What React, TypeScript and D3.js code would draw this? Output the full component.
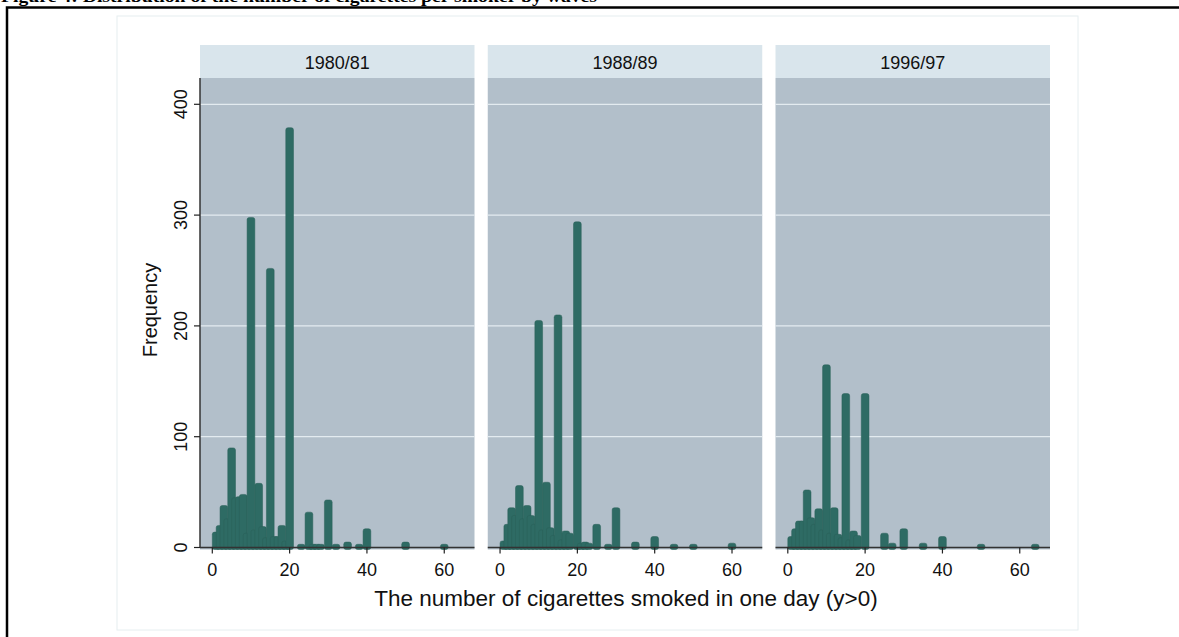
import React from "react";
import * as d3 from "d3";

const waves = ["1980/81", "1988/89", "1996/97"];

const values1 = [1, 2, 3, 4, 5, 6, 7, 8, 9, 10, 11, 12, 13, 14, 15, 16, 17, 18, 19, 20, 23, 25, 26, 27, 28, 30, 32, 35, 38, 40, 50, 60];
const counts1 = [13, 19, 37, 25, 89, 44, 45, 47, 12, 297, 15, 57, 18, 8, 251, 9, 9, 19, 5, 378, 2, 31, 2, 2, 2, 42, 2, 4, 2, 16, 4, 2];

const values2 = [1, 2, 3, 4, 5, 6, 7, 8, 9, 10, 11, 12, 13, 14, 15, 16, 17, 18, 20, 21, 22, 23, 25, 28, 30, 35, 40, 45, 50, 60];
const counts2 = [5, 20, 35, 28, 55, 25, 37, 28, 20, 204, 15, 58, 17, 10, 209, 6, 14, 12, 293, 3, 4, 3, 20, 2, 35, 4, 9, 2, 2, 3];

const values3 = [1, 2, 3, 4, 5, 6, 7, 8, 9, 10, 11, 12, 13, 14, 15, 16, 17, 18, 20, 25, 27, 30, 35, 40, 50, 64];
const counts3 = [9, 16, 23, 23, 51, 26, 20, 34, 15, 164, 12, 35, 11, 8, 138, 6, 14, 10, 138, 12, 3, 16, 3, 9, 2, 2];

const xTicks = [0, 20, 40, 60];
const yTicks = [0, 100, 200, 300, 400];
const yGrid = [100, 200, 300, 400];

const titleText = "Figure 4: Distribution of the number of cigarettes per smoker by waves";
const xTitle = "The number of cigarettes smoked in one day (y>0)";
const yTitle = "Frequency";

const seriesValues = [values1, values2, values3];
const seriesCounts = [counts1, counts2, counts3];

export default function App() {
  const W = 1179;
  const H = 637;
  const panelW = 274.5;
  const panelStep = 287.75;
  const firstLeft = 200;
  const plotTop = 78;
  const stripTop = 45;
  const baseY = 547.5;
  const pxPerUnit = 3.866;
  const zeroOffset = 12.3;
  const font = "'Liberation Sans', Arial, Helvetica, sans-serif";

  const y = d3.scaleLinear().domain([0, (baseY - plotTop) / 1.108]).range([baseY, plotTop]);
  const barColor = "#2e6b64";

  return (
    <svg width={W} height={H} style={{ position: "absolute", left: 0, top: 0, background: "#fff" }}>
      <text x={1} y={2} fontFamily="'Liberation Serif', 'Times New Roman', serif" fontWeight="bold" fontSize={16} textLength={596} lengthAdjust="spacingAndGlyphs">{titleText}</text>
      <rect x={7} y={7.5} width={1200} height={700} fill="none" stroke="#000" strokeWidth={2.5} />
      <rect x={117} y={16} width={961} height={614} fill="#fff" stroke="#e6eef0" strokeWidth={1} />

      {waves.map((w, i) => {
        const left = firstLeft + i * panelStep;
        const x = d3
          .scaleLinear()
          .domain([-zeroOffset / pxPerUnit, (panelW - zeroOffset) / pxPerUnit])
          .range([left, left + panelW]);
        const bw = x(2) - x(0);
        const vals = seriesValues[i];
        const cnts = seriesCounts[i];
        return (
          <g key={w}>
            <rect x={left} y={stripTop} width={panelW} height={plotTop - stripTop} fill="#d9e5ec" />
            <text x={left + panelW / 2} y={69} textAnchor="middle" fontFamily={font} fontSize={18} fill="#111">{w}</text>
            <rect x={left} y={plotTop} width={panelW} height={baseY - plotTop + 2} fill="#b2bfca" />
            {yGrid.map((g) => (
              <line key={g} x1={left} x2={left + panelW} y1={y(g)} y2={y(g)} stroke="#e3ebf0" strokeWidth={1.2} />
            ))}
            {vals.map((v, j) => (
              <rect
                key={v}
                x={x(v) - bw / 2}
                y={y(cnts[j]) - 1}
                width={bw}
                height={y(0) - y(cnts[j]) + 3}
                rx={2.2}
                fill={barColor}
                stroke="#2a6058"
                strokeWidth={0.5}
              />
            ))}
            <line x1={left} x2={left + panelW} y1={baseY} y2={baseY} stroke="#333" strokeWidth={1.5} />
            {xTicks.map((t) => (
              <g key={t}>
                <line x1={x(t)} x2={x(t)} y1={baseY} y2={baseY + 6} stroke="#222" strokeWidth={1.2} />
                <text x={x(t)} y={576} textAnchor="middle" fontFamily={font} fontSize={18} fill="#111">{t}</text>
              </g>
            ))}
          </g>
        );
      })}

      <line x1={firstLeft} x2={firstLeft} y1={plotTop} y2={baseY} stroke="#333" strokeWidth={1.5} />
      {yTicks.map((t) => (
        <g key={t}>
          <line x1={firstLeft - 6} x2={firstLeft} y1={y(t)} y2={y(t)} stroke="#222" strokeWidth={1.2} />
          <text transform={`translate(187,${y(t)}) rotate(-90)`} textAnchor="middle" fontFamily={font} fontSize={18} fill="#111">{t}</text>
        </g>
      ))}
      <text transform={`translate(157,310) rotate(-90)`} textAnchor="middle" fontFamily={font} fontSize={20} fill="#111">{yTitle}</text>
      <text x={626} y={606} textAnchor="middle" fontFamily={font} fontSize={22.5} fill="#111">{xTitle}</text>
    </svg>
  );
}
